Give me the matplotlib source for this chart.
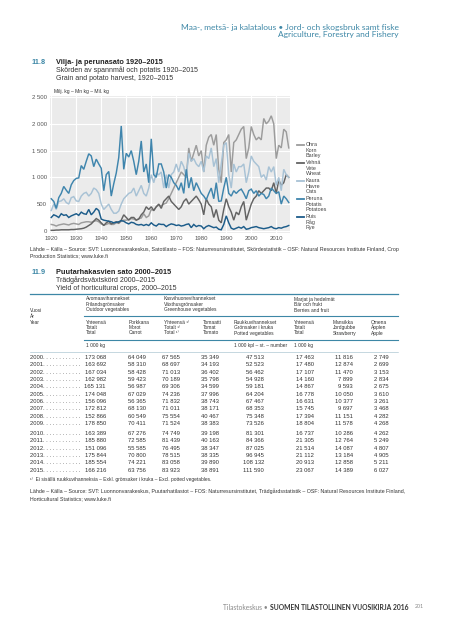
import numpy as np
import matplotlib.pyplot as plt
from matplotlib.lines import Line2D

W, H = 450, 640

years = list(range(1920, 2016))

barley = [120, 110, 90, 110, 120, 130, 120, 110, 130, 140,
          130, 120, 150, 160, 170, 170, 160, 180, 190, 170,
          130, 110, 120, 140, 120, 120, 150, 140, 180, 200,
          200, 210, 230, 220, 200, 230, 240, 320, 250, 280,
          400, 380, 450, 480, 470, 500, 520, 600, 700, 800,
          900, 1000, 1100, 1050, 1000, 1550, 1300, 1450, 1600, 1400,
          1500, 1100, 1600, 1750, 1800, 1600, 1800, 1150, 900, 1650,
          1700, 1800, 1100, 1650, 1700, 1800, 1900, 1950, 1350, 1550,
          1950, 1800, 1700, 1750, 1700, 2100, 2000, 2050, 2150, 2000,
          1350, 1600, 1550, 1900, 1850, 1550]

wheat = [10, 10, 15, 15, 20, 20, 20, 20, 25, 25,
         30, 35, 40, 50, 70, 100, 130, 180, 230, 200,
         150, 100, 150, 180, 130, 150, 170, 150, 200, 300,
         250, 200, 250, 250, 200, 220, 300, 350, 450, 400,
         450, 380, 450, 500, 420, 550, 600, 650, 550, 500,
         450, 400, 450, 550, 600, 500, 550, 600, 650, 580,
         500, 300, 600, 500, 450, 250, 400, 200, 150, 400,
         600, 450, 350, 200, 350, 300, 450, 550, 200, 350,
         500, 600, 650, 750, 700, 750, 800, 800, 750, 900,
         700, 950, 850, 900, 1050, 1000]

oats = [380, 500, 400, 550, 560, 600, 530, 500, 620, 640,
        560, 550, 650, 700, 720, 650, 700, 800, 770, 700,
        500, 400, 450, 500, 400, 330, 330, 370, 500, 600,
        650, 700, 720, 800, 650, 750, 850, 700, 650, 800,
        1050, 900, 1080, 1050, 1100, 800, 1050, 800, 1050, 1100,
        1250, 1100, 1300, 1200, 1000, 1450, 1300, 1350, 1250, 1200,
        1300, 1100, 1400, 1350, 1550, 1200, 1350, 900, 1250, 1600,
        1650, 1050, 800, 1250, 1100, 1200, 1200, 1250, 900, 1100,
        1400, 1300, 1250, 1200, 1000, 1050, 950, 1200, 1100, 1200,
        850, 1000, 750, 1150, 1050, 1000]

potatoes = [600, 550, 420, 620, 700, 830, 760, 700, 860, 940,
            980, 990, 1220, 1150, 1300, 1440, 1400, 1200, 1340, 1250,
            1170, 750, 1050, 1110, 650, 880, 1080, 1370, 1960, 1150,
            1450, 1380, 1500, 1300, 1050, 1300, 1680, 1100, 1250, 900,
            1720, 1050, 1000, 1250, 1250, 1100, 800, 1050, 1000, 900,
            850, 760, 900, 700, 1150, 800, 1000, 750, 900, 800,
            700, 650, 580, 700, 800, 600, 900, 550, 560, 800,
            1000, 700, 650, 750, 700, 750, 780, 700, 600, 750,
            780, 700, 750, 650, 700, 680, 600, 650, 800, 750,
            700, 730, 500, 650, 600, 530]

rye = [250, 300, 280, 250, 320, 290, 300, 250, 280, 300,
       320, 290, 350, 320, 310, 400, 300, 350, 420, 380,
       220, 200, 190, 180, 170, 150, 160, 170, 190, 180,
       150, 130, 160, 150, 120, 110, 120, 100, 120, 100,
       150, 110, 90, 130, 120, 120, 80, 110, 130, 120,
       100, 110, 90, 100, 120, 130, 60, 120, 80, 100,
       90, 40, 80, 100, 80, 60, 70, 30, 20, 120,
       280, 150, 50, 30, 50, 70, 50, 80, 30, 40,
       60, 70, 80, 60, 50, 40, 50, 60, 80, 50,
       40, 60, 50, 70, 80, 100]

series = [
    (barley, "#9c9c9c", ["Ohra", "Korn", "Barley"]),
    (wheat, "#636363", ["Vehnä", "Vete", "Wheat"]),
    (oats, "#a8c2d5", ["Kaura", "Havre", "Oats"]),
    (potatoes, "#3f85ad", ["Peruna", "Potatis", "Potatoes"]),
    (rye, "#1c5c8a", ["Ruis", "Råg", "Rye"]),
]

table_years = list(range(2000, 2016))
outdoor_total = ["173 068", "163 692", "167 034", "162 982", "165 131", "174 048", "156 096", "172 812",
                 "152 866", "178 850", "163 389", "185 880", "151 096", "175 844", "185 554", "166 216"]
carrot = ["64 049", "58 310", "58 428", "59 423", "56 987", "67 029", "56 365", "68 130",
          "60 549", "70 411", "67 276", "72 585", "55 585", "70 800", "74 221", "63 756"]
green_total = ["67 565", "68 697", "71 013", "70 189", "69 306", "74 236", "71 832", "71 011",
               "75 554", "71 524", "74 749", "81 439", "76 495", "78 515", "83 058", "83 923"]
tomato = ["35 349", "34 193", "36 402", "35 798", "34 599", "37 996", "38 743", "38 171",
          "40 467", "38 383", "39 198", "40 163", "38 347", "38 335", "39 890", "38 891"]
potted = ["47 513", "52 523", "56 462", "54 928", "59 181", "64 204", "67 467", "68 353",
          "75 348", "73 526", "81 301", "84 366", "87 025", "96 945", "108 132", "111 590"]
berry_total = ["17 463", "17 480", "17 107", "14 160", "14 867", "16 778", "16 631", "15 745",
               "17 394", "18 804", "16 737", "21 305", "21 514", "21 112", "20 913", "23 067"]
strawberry = ["11 816", "12 874", "11 470", "7 899", "9 593", "10 050", "10 377", "9 697",
              "11 151", "11 578", "10 286", "12 764", "14 087", "13 184", "12 858", "14 389"]
apple = ["2 749", "2 699", "3 153", "2 834", "2 675", "3 610", "3 261", "3 468",
         "4 282", "4 268", "4 262", "5 249", "4 807", "4 905", "5 211", "6 027"]

TEAL = "#3d87a6"
TXT = "#333333"
SANS = ["Liberation Sans Narrow", "Liberation Sans", "DejaVu Sans"]
plt.rcParams["font.family"] = SANS

fig = plt.figure(figsize=(W / 100, H / 100), dpi=100)


def T(x, y, s, size=4.3, **kw):
    kw.setdefault("va", "center")
    kw.setdefault("color", TXT)
    fig.text(x / W, 1 - y / H, s, fontsize=size, **kw)


def hline(x0, x1, y, color=TEAL, lw=0.8):
    fig.add_artist(Line2D([x0 / W, x1 / W], [1 - y / H, 1 - y / H], color=color, lw=lw))


# page header
T(399, 27, "Maa-, metsä- ja kalatalous • Jord- och skogsbruk samt fiske", size=6.0,
  ha="right", color=TEAL, family=["Lato", "DejaVu Sans"])
T(399, 34.5, "Agriculture, Forestry and Fishery", size=6.0, ha="right", color=TEAL,
  family=["Lato", "DejaVu Sans"])

# 11.8 chart
T(31, 62, "11.8", size=5.3, color=TEAL, weight="bold")
T(56, 62, "Vilja- ja perunasato 1920–2015", size=5.3, weight="bold", color="#222222")
T(56, 70.5, "Skörden av spannmål och potatis 1920–2015", size=5.0)
T(56, 78.5, "Grain and potato harvest, 1920–2015", size=5.0)
T(54, 92, "Milj. kg – Mn kg – Mil. kg", size=3.6)

ax = fig.add_axes([50 / W, 1 - 233 / H, 240 / W, 137 / H])
ax.set_facecolor("#ebebeb")
for vals, col, lab in series:
    ax.plot(years, vals, color=col, lw=1.05, solid_joinstyle="miter")
ax.set_xlim(1919.5, 2015.5)
ax.set_ylim(-40, 2520)
ax.set_xticks(range(1920, 2011, 10))
ax.set_yticks(range(0, 2501, 500))
ax.set_yticklabels(["0", "500", "1 000", "1 500", "2 000", "2 500"])
ax.grid(True, color="white", lw=0.8)
ax.set_axisbelow(True)
ax.tick_params(length=0, labelsize=4.3, colors="#555555", pad=2)
for sp in ax.spines.values():
    sp.set_visible(False)

# legend
ly = 145
for vals, col, lab in series:
    fig.add_artist(Line2D([297 / W, 303.5 / W], [1 - ly / H, 1 - ly / H], color=col, lw=1.3))
    for k, t in enumerate(lab):
        T(306, ly + k * 5.2, t, size=3.9, color="#444444")
    ly += 18

T(30, 249, "Lähde – Källa – Source: SVT: Luonnonvarakeskus, Satotilasto – FOS: Naturresursinstitutet, "
           "Skördestatistik – OSF: Natural Resources Institute Finland, Crop", size=3.75)
T(30, 256, "Production Statistics; www.luke.fi", size=3.75)

# 11.9 table
T(31, 272, "11.9", size=5.3, color=TEAL, weight="bold")
T(56, 272, "Puutarhakasvien sato 2000–2015", size=5.3, weight="bold", color="#222222")
T(56, 280.5, "Trädgårdsväxtskörd 2000–2015", size=5.0)
T(56, 288.5, "Yield of horticultural crops, 2000–2015", size=5.0)
hline(30, 398, 294, lw=0.9)

groups = [(86, ["Avomaavihannekset", "Frilandsgrönsaker", "Outdoor vegetables"]),
          (164, ["Kasvihuonevihannekset", "Växthusgrönsaker", "Greenhouse vegetables"]),
          (294, ["Marjat ja hedelmät", "Bär och frukt", "Berries and fruit"])]
for gx, lines in groups:
    for k, t in enumerate(lines):
        T(gx, 299 + k * 5.5, t, size=3.5)
hline(84, 398, 316, lw=0.8)

T(30, 311, "Vuosi", size=3.5)
T(30, 316.5, "År", size=3.5)
T(30, 322, "Year", size=3.5)

heads = [(86, ["Yhteensä", "Totalt", "Total"]),
         (129, ["Porkkana", "Morot", "Carrot"]),
         (164, ["Yhteensä ¹⁾", "Totalt ¹⁾", "Total ¹⁾"]),
         (203, ["Tomaatti", "Tomat", "Tomato"]),
         (234, ["Ruukkuvihannekset", "Grönsaker i kruka", "Potted vegetables"]),
         (294, ["Yhteensä", "Totalt", "Total"]),
         (333, ["Mansikka", "Jordgubbe", "Strawberry"]),
         (371, ["Omena", "Äpplen", "Apple"])]
for hx, lines in heads:
    for k, t in enumerate(lines):
        T(hx, 322 + k * 5.5, t, size=3.5)
hline(84, 398, 340, lw=0.8)
T(86, 346, "1 000 kg", size=3.5)
T(234, 346, "1 000 kpl – st. – number", size=3.5)
T(294, 346, "1 000 kg", size=3.5)
hline(30, 398, 351.5, color="#9ab9c8", lw=0.4)

cols = [(106, outdoor_total), (146, carrot), (180, green_total), (219, tomato),
        (264, potted), (314, berry_total), (353, strawberry), (389, apple)]
for i, yr in enumerate(table_years):
    ry = 357.3 + i * 7.35 + (2.6 if yr >= 2010 else 0)
    T(30, ry, f"{yr}" + ". " * 12, size=4.2)
    for cx, arr in cols:
        T(cx, ry, arr[i], size=4.2, ha="right")

T(30, 480, "¹⁾  Ei sisällä ruukkuvihanneksia – Exkl. grönsaker i kruka – Excl. potted vegetables.", size=3.5)
T(30, 491, "Lähde – Källa – Source: SVT: Luonnonvarakeskus, Puutarhatilastot – FOS: Naturresursinstitutet, "
           "Trädgårdsstatistik – OSF: Natural Resources Institute Finland,", size=3.75)
T(30, 498.5, "Horticultural Statistics; www.luke.fi", size=3.75)

# footer
T(409, 607, "SUOMEN TILASTOLLINEN VUOSIKIRJA 2016", size=4.9, ha="right", weight="bold",
  color="#333333", family=["Lato", "DejaVu Sans"])
T(268, 607, "Tilastokeskus •", size=4.8, ha="right", color="#888888",
  family=["Lato", "DejaVu Sans"])
T(415, 607, "201", size=3.8, color="#888888", family=["Lato", "DejaVu Sans"])

fig.savefig("out.png", dpi=100)
